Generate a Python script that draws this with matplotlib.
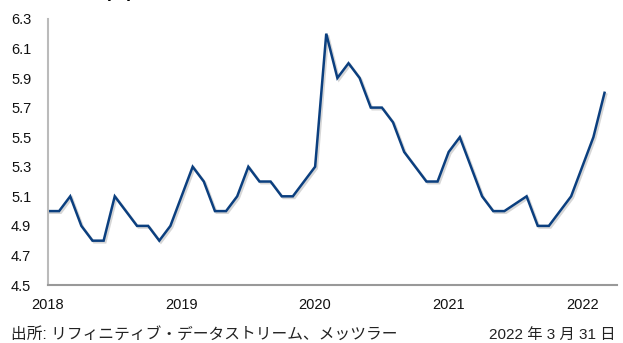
import numpy as np
import matplotlib.pyplot as plt
from matplotlib import patheffects as pe

plt.rcParams['font.family'] = ['Liberation Sans', 'Noto Sans CJK JP', 'DejaVu Sans']

# 月次データ 2018年1月〜2022年3月
rate_2018 = [5.0, 5.0, 5.1, 4.9, 4.8, 4.8, 5.1, 5.0, 4.9, 4.9, 4.8, 4.9]
rate_2019 = [5.1, 5.3, 5.2, 5.0, 5.0, 5.1, 5.3, 5.2, 5.2, 5.1, 5.1, 5.2]
rate_2020 = [5.3, 6.2, 5.9, 6.0, 5.9, 5.7, 5.7, 5.6, 5.4, 5.3, 5.2, 5.2]
rate_2021 = [5.4, 5.5, 5.3, 5.1, 5.0, 5.0, 5.05, 5.1, 4.9, 4.9, 5.0, 5.1]
rate_2022 = [5.3, 5.5, 5.8]
years = ['2018', '2019', '2020', '2021', '2022']

rate = rate_2018 + rate_2019 + rate_2020 + rate_2021 + rate_2022
x = np.arange(len(rate))

fig = plt.figure(figsize=(6.23, 3.43), dpi=100)
ax = fig.add_axes([0.077, 0.169, 0.913, 0.776])

ax.plot(x, rate, color='#0b3f7f', lw=1.8, solid_joinstyle='miter',
        path_effects=[pe.SimpleLineShadow(offset=(1.2, -1.2), shadow_color='#999999', alpha=0.4),
                      pe.Normal()])

ax.set_ylim(4.5, 6.3)
ax.set_yticks(np.arange(4.5, 6.31, 0.2))
ax.set_yticklabels([f'{v:.1f}' for v in np.arange(4.5, 6.31, 0.2)])
ax.set_xlim(0, 51.1)
ax.set_xticks(np.arange(0, 49, 12))
ax.set_xticklabels(years)

for s in ['top', 'right']:
    ax.spines[s].set_visible(False)
for s in ['left', 'bottom']:
    ax.spines[s].set_color('#999999')
    ax.spines[s].set_linewidth(1.5)
ax.spines['left'].set_color('#bbbbbb')
ax.tick_params(length=0, labelsize=10.5, colors='#111111')
ax.tick_params(axis='y', pad=12)
ax.tick_params(axis='x', pad=9)

# タイトルは上端で切れている
fig.text(0.016, 0.996, '中国失業率 (%)', fontsize=13, fontweight='bold', va='bottom', ha='left')
fig.text(0.018, 0.012, '出所: リフィニティブ・データストリーム、メッツラー', fontsize=11.3, color='#222222')
fig.text(0.988, 0.012, '2022 年 3 月 31 日', fontsize=11, color='#222222', ha='right')

fig.savefig('out.png', dpi=100)
